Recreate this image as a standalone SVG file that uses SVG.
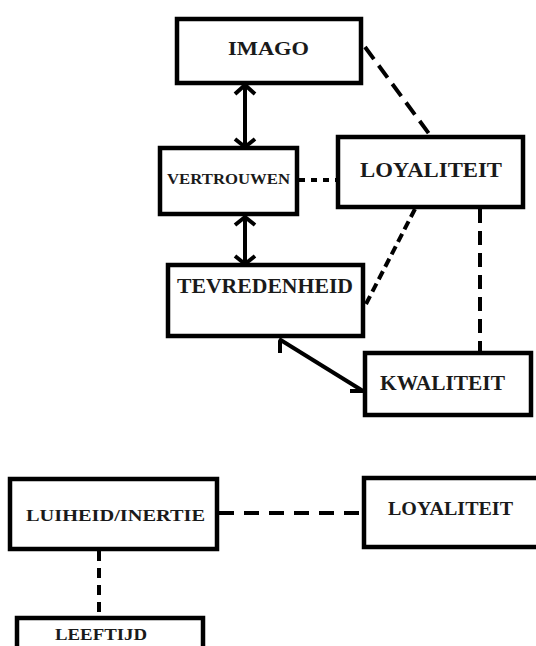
<svg xmlns="http://www.w3.org/2000/svg" width="536" height="646" viewBox="0 0 536 646">
<style>
.box{fill:#fff;stroke:#000;stroke-width:4.5}
.t{font-family:"Liberation Serif","Times New Roman",serif;font-weight:bold;fill:#1a1a1a}
.c{fill:none;stroke:#000;stroke-width:4}
</style>
<rect width="536" height="646" fill="#fff"/>
<g id="connectors">
<line class="c" x1="245" y1="86" x2="245" y2="146"/>
<polyline class="c" points="235,94 245,85 255,94"/>
<polyline class="c" points="235,139 245,147 255,139"/>
<line class="c" x1="245" y1="216" x2="245" y2="263"/>
<polyline class="c" points="235,225 245,217 255,225"/>
<polyline class="c" points="235,256 245,264 255,256"/>
<line class="c" x1="299" y1="180" x2="336" y2="180" stroke-dasharray="6,6"/>
<line class="c" x1="365" y1="47" x2="430" y2="135" stroke-dasharray="15,8"/>
<line class="c" x1="415" y1="209" x2="366" y2="304" stroke-dasharray="9,5"/>
<line class="c" x1="480" y1="209" x2="480" y2="351" stroke-dasharray="14,8"/>
<line class="c" x1="279" y1="339" x2="363" y2="391"/>
<line class="c" x1="280" y1="341" x2="280" y2="353"/>
<line class="c" x1="350" y1="391" x2="363" y2="391"/>
<line class="c" x1="219" y1="513" x2="362" y2="513" stroke-dasharray="15,10"/>
<line class="c" x1="99" y1="551" x2="99" y2="616" stroke-dasharray="10,7"/>
</g>
<g id="imago"><rect class="box" x="177" y="19" width="184" height="64"/><text class="t" x="228" y="55" font-size="19" textLength="81" lengthAdjust="spacingAndGlyphs">IMAGO</text></g>
<g id="vertrouwen"><rect class="box" x="160" y="148" width="137" height="66"/><text class="t" x="167" y="184" font-size="14" textLength="123" lengthAdjust="spacingAndGlyphs">VERTROUWEN</text></g>
<g id="loyaliteit"><rect class="box" x="338" y="137" width="185" height="70"/><text class="t" x="360" y="177" font-size="21" textLength="142" lengthAdjust="spacingAndGlyphs">LOYALITEIT</text></g>
<g id="tevredenheid"><rect class="box" x="168" y="265" width="195" height="71"/><text class="t" x="177" y="293" font-size="20" textLength="176" lengthAdjust="spacingAndGlyphs">TEVREDENHEID</text></g>
<g id="kwaliteit"><rect class="box" x="365" y="353" width="166" height="62"/><text class="t" x="380" y="390" font-size="21" textLength="125" lengthAdjust="spacingAndGlyphs">KWALITEIT</text></g>
<g id="luiheid"><rect class="box" x="10" y="479" width="207" height="70"/><text class="t" x="26" y="521" font-size="17" textLength="179" lengthAdjust="spacingAndGlyphs">LUIHEID/INERTIE</text></g>
<g id="loyaliteit2"><rect class="box" x="364" y="478" width="180" height="69"/><text class="t" x="388" y="515" font-size="18" textLength="125" lengthAdjust="spacingAndGlyphs">LOYALITEIT</text></g>
<g id="leeftijd"><rect class="box" x="17" y="618" width="186" height="40"/><text class="t" x="55" y="640" font-size="17" textLength="92" lengthAdjust="spacingAndGlyphs">LEEFTIJD</text></g>
</svg>
